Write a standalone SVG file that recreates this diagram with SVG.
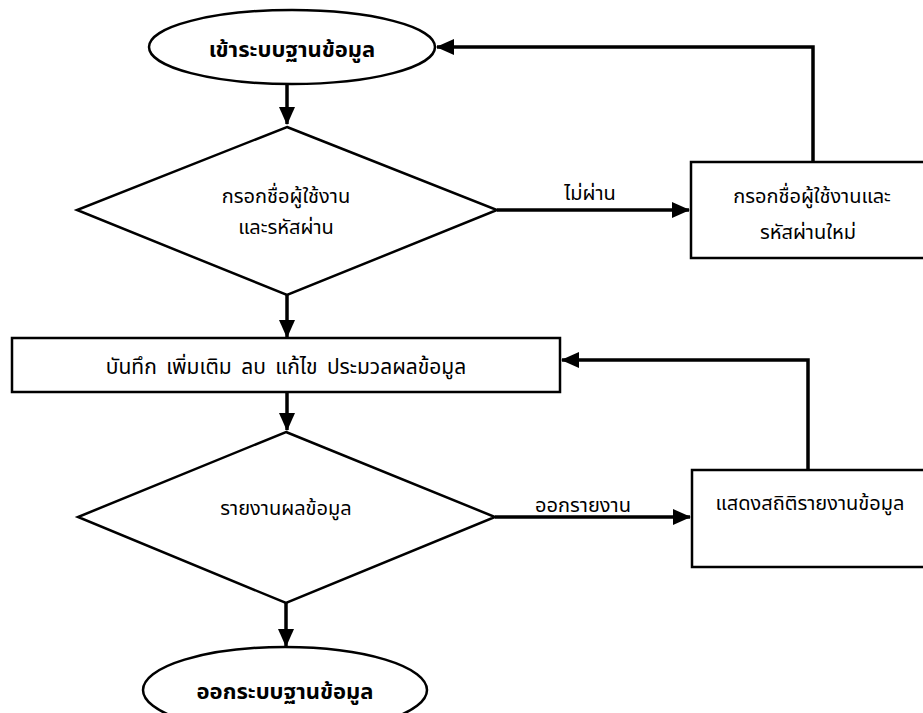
<svg xmlns="http://www.w3.org/2000/svg" width="923" height="713" viewBox="0 0 923 713">
<style>
.shape{fill:#fff;stroke:#000;stroke-width:2.5}
.t{font-family:"Noto Sans Thai","Noto Sans","DejaVu Sans",sans-serif;font-size:20px;fill:#000;text-anchor:middle}
.b{font-weight:bold;font-size:22px}
.c{fill:none;stroke:#000;stroke-width:3.5}
</style>
<defs>
<marker id="ah" markerUnits="userSpaceOnUse" markerWidth="18" markerHeight="16" refX="17" refY="8" orient="auto">
<path d="M0,0 L18,8 L0,16 Z" fill="#000"/>
</marker>
</defs>
<g id="connectors">
<path class="c" d="M287,84 V124" marker-end="url(#ah)"/>
<path class="c" d="M497,210 H689" marker-end="url(#ah)"/>
<path class="c" d="M813,162 V47 H437" marker-end="url(#ah)"/>
<path class="c" d="M287,295 V337" marker-end="url(#ah)"/>
<path class="c" d="M287,392 V430" marker-end="url(#ah)"/>
<path class="c" d="M495,517 H690" marker-end="url(#ah)"/>
<path class="c" d="M808,470 V360 H562" marker-end="url(#ah)"/>
<path class="c" d="M286,603 V646" marker-end="url(#ah)"/>
</g>
<g id="start">
<ellipse class="shape" cx="292" cy="47" rx="143" ry="37"/>
<text class="t b" x="292" y="57">เข้าระบบฐานข้อมูล</text>
</g>
<g id="login">
<path class="shape" d="M287,127 L497,210 L287,295 L77,210 Z"/>
<text class="t" x="286" y="203">กรอกชื่อผู้ใช้งาน</text>
<text class="t" x="286" y="234">และรหัสผ่าน</text>
</g>
<text class="t" x="590" y="200">ไม่ผ่าน</text>
<g id="relogin">
<rect class="shape" x="691" y="162" width="250" height="96"/>
<text class="t" x="812" y="203">กรอกชื่อผู้ใช้งานและ</text>
<text class="t" x="808" y="239">รหัสผ่านใหม่</text>
</g>
<g id="process">
<rect class="shape" x="12" y="338" width="548" height="54"/>
<text class="t" x="286" y="374" style="font-size:21px;word-spacing:4px">บันทึก เพิ่มเติม ลบ แก้ไข ประมวลผลข้อมูล</text>
</g>
<g id="report">
<path class="shape" d="M286,432 L495,517 L286,603 L78,517 Z"/>
<text class="t" x="286" y="515">รายงานผลข้อมูล</text>
</g>
<text class="t" x="583" y="512">ออกรายงาน</text>
<g id="stats">
<rect class="shape" x="692" y="470" width="250" height="97"/>
<text class="t" x="810" y="510">แสดงสถิติรายงานข้อมูล</text>
</g>
<g id="end">
<ellipse class="shape" cx="285" cy="690" rx="142" ry="43"/>
<text class="t b" x="285" y="699">ออกระบบฐานข้อมูล</text>
</g>
</svg>
